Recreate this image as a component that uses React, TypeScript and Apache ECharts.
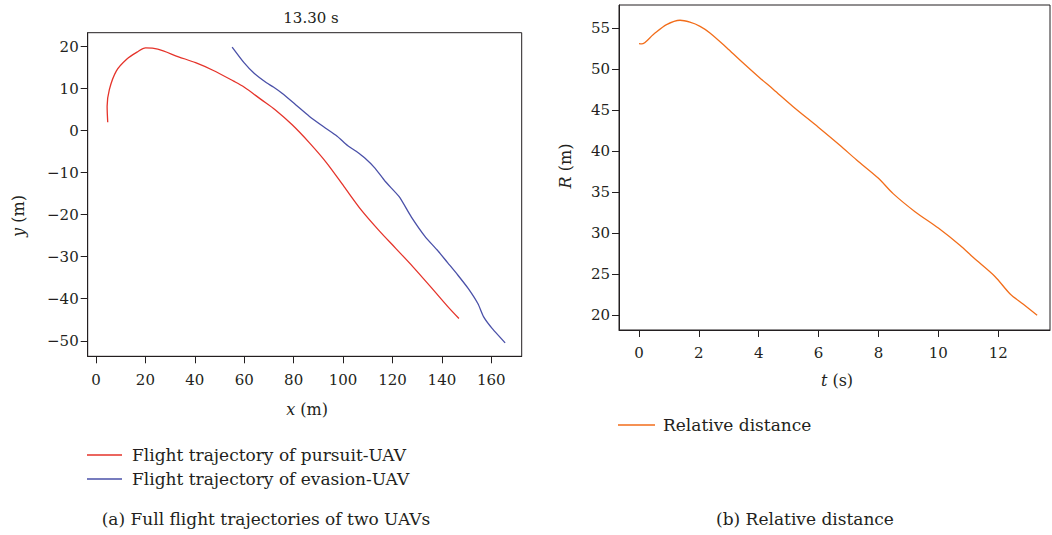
import React, { useEffect, useRef } from "react";
import * as echarts from "echarts";

// Left panel: trajectories (x, y in metres)
const pursuitX = [4.75, 4.5, 5.4, 8.2, 12.4, 16.6, 20.1, 25, 33.4, 40.3, 47.3, 55.7, 59.9, 66.9, 72.5, 79.4, 86.4, 93.4, 100.4, 107.4, 114.3, 121.3, 128.3, 136.7, 142.3, 146.9];
const pursuitY = [2.0, 5.8, 9.8, 14.2, 17.0, 18.7, 19.7, 19.4, 17.6, 16.2, 14.4, 11.8, 10.4, 7.4, 5.0, 1.4, -2.9, -7.7, -13.3, -18.9, -23.6, -28.0, -32.4, -38.0, -41.8, -44.7];
const evasionX = [55.1, 59.9, 64.1, 69.0, 71.8, 75.3, 80.8, 86.4, 92.0, 97.6, 101.8, 105.3, 108.8, 112.9, 117.1, 122.7, 127.6, 133.2, 138.1, 142.3, 146.5, 150.7, 154.6, 156.9, 160.4, 165.6];
const evasionY = [19.9, 16.2, 13.6, 11.4, 10.4, 8.9, 6.2, 3.4, 1.0, -1.3, -3.5, -4.9, -6.5, -8.9, -12.1, -15.7, -20.5, -25.2, -28.4, -31.4, -34.4, -37.6, -41.2, -44.3, -47.1, -50.5];

// Right panel: relative distance over time
const timeS = [0, 0.09, 0.48, 0.92, 1.37, 1.7, 2.04, 2.37, 2.93, 3.37, 4.01, 4.49, 5.15, 5.99, 6.71, 7.27, 7.99, 8.49, 9.22, 10.0, 10.72, 11.17, 11.89, 12.39, 12.84, 13.3];
const distR = [53.09, 53.05, 54.2, 55.4, 55.94, 55.7, 55.2, 54.4, 52.6, 51.1, 49.0, 47.5, 45.4, 42.9, 40.7, 38.9, 36.7, 34.8, 32.6, 30.6, 28.5, 27.0, 24.7, 22.6, 21.3, 19.96];

const xTicksL = [0, 20, 40, 60, 80, 100, 120, 140, 160];
const yTicksL = [-50, -40, -30, -20, -10, 0, 10, 20];
const xTicksR = [0, 2, 4, 6, 8, 10, 12];
const yTicksR = [20, 25, 30, 35, 40, 45, 50, 55];

const FONT = "DejaVu Serif";
const INK = "#231f20";
const RED = "#e5332a";
const BLUE = "#4a50a8";
const ORANGE = "#f26d1a";

const fmt = (v: number) => (v < 0 ? "\u2212" + Math.abs(v) : String(v));

function axisCommon(ticks: number[], margin: number) {
  return {
    type: "value" as const,
    splitLine: { show: false },
    axisLine: { show: true, onZero: false, lineStyle: { color: INK, width: 1 } },
    axisTick: { show: true, inside: false, length: 7, customValues: ticks, lineStyle: { color: INK } },
    axisLabel: {
      customValues: ticks,
      formatter: fmt,
      margin,
      fontFamily: FONT,
      fontSize: 15,
      color: INK,
    },
  };
}

function axisName(text: string, x: number, y: number, rotated: boolean) {
  return {
    type: "text",
    x,
    y,
    rotation: rotated ? Math.PI / 2 : 0,
    style: {
      text,
      rich: { i: { fontStyle: "italic", fontFamily: FONT, fontSize: 16, fill: INK } },
      fontFamily: FONT,
      fontSize: 16,
      fill: INK,
      align: "center",
      verticalAlign: "middle",
    },
  };
}

export default function App() {
  const ref = useRef<HTMLDivElement>(null);
  useEffect(() => {
    if (!ref.current) return;
    const chart = echarts.init(ref.current, undefined, { renderer: "svg" });
    const zip = (a: number[], b: number[]) => a.map((v, i) => [v, b[i]]);
    chart.setOption({
      animation: false,
      backgroundColor: "#ffffff",
      title: {
        text: "13.30 s",
        left: 306,
        top: 5,
        textAlign: "center",
        textStyle: { fontFamily: FONT, fontSize: 15, fontWeight: "normal", color: INK },
      },
      grid: [
        { left: 87.7, top: 32.7, width: 434, height: 323.6, show: true, borderColor: INK, borderWidth: 1, backgroundColor: "transparent" },
        { left: 619, top: 5, width: 431, height: 325, show: true, borderColor: INK, borderWidth: 1, backgroundColor: "transparent" },
      ],
      xAxis: [
        { ...axisCommon(xTicksL, 16), gridIndex: 0, min: -3.36, max: 172.3 },
        { ...axisCommon(xTicksR, 15), gridIndex: 1, min: -0.668, max: 13.73 },
      ],
      yAxis: [
        { ...axisCommon(yTicksL, 9), gridIndex: 0, min: -53.7, max: 23.33 },
        { ...axisCommon(yTicksR, 9), gridIndex: 1, min: 18.17, max: 57.8 },
      ],
      legend: [
        {
          data: ["Flight trajectory of pursuit-UAV", "Flight trajectory of evasion-UAV"],
          orient: "vertical",
          left: 87,
          top: 443,
          padding: 0,
          icon: "rect",
          itemWidth: 35,
          itemHeight: 1.5,
          itemGap: 0,
          textStyle: { fontFamily: FONT, fontSize: 17, color: INK, lineHeight: 24, padding: [0, 0, 0, 5] },
        },
        {
          data: ["Relative distance"],
          orient: "vertical",
          left: 618,
          top: 413,
          padding: 0,
          icon: "rect",
          itemWidth: 37,
          itemHeight: 1.5,
          itemGap: 0,
          textStyle: { fontFamily: FONT, fontSize: 17, color: INK, lineHeight: 24, padding: [0, 0, 0, 3] },
        },
      ],
      series: [
        {
          name: "Flight trajectory of pursuit-UAV",
          type: "line",
          xAxisIndex: 0,
          yAxisIndex: 0,
          data: zip(pursuitX, pursuitY),
          smooth: 0.3,
          symbol: "none",
          clip: false,
          lineStyle: { color: RED, width: 1.3 },
          itemStyle: { color: RED },
        },
        {
          name: "Flight trajectory of evasion-UAV",
          type: "line",
          xAxisIndex: 0,
          yAxisIndex: 0,
          data: zip(evasionX, evasionY),
          smooth: 0.2,
          symbol: "none",
          clip: false,
          lineStyle: { color: BLUE, width: 1.3 },
          itemStyle: { color: BLUE },
        },
        {
          name: "Relative distance",
          type: "line",
          xAxisIndex: 1,
          yAxisIndex: 1,
          data: zip(timeS, distR),
          smooth: 0.3,
          symbol: "none",
          clip: false,
          lineStyle: { color: ORANGE, width: 1.3 },
          itemStyle: { color: ORANGE },
        },
      ],
      graphic: [
        axisName("{i|x} (m)", 307, 409, false),
        axisName("{i|y} (m)", 18, 216, true),
        axisName("{i|R} (m)", 565, 166, true),
        axisName("{i|t} (s)", 837, 380, false),
        {
          type: "text",
          x: 266,
          y: 519,
          style: {
            text: "(a) Full flight trajectories of two UAVs",
            fontFamily: FONT,
            fontSize: 17,
            fill: INK,
            align: "center",
            verticalAlign: "middle",
          },
        },
        {
          type: "text",
          x: 805,
          y: 519,
          style: {
            text: "(b) Relative distance",
            fontFamily: FONT,
            fontSize: 17,
            fill: INK,
            align: "center",
            verticalAlign: "middle",
          },
        },
      ],
    });
    return () => chart.dispose();
  }, []);
  return (
    <div
      ref={ref}
      style={{ position: "fixed", left: 0, top: 0, width: 1052, height: 535 }}
    />
  );
}
